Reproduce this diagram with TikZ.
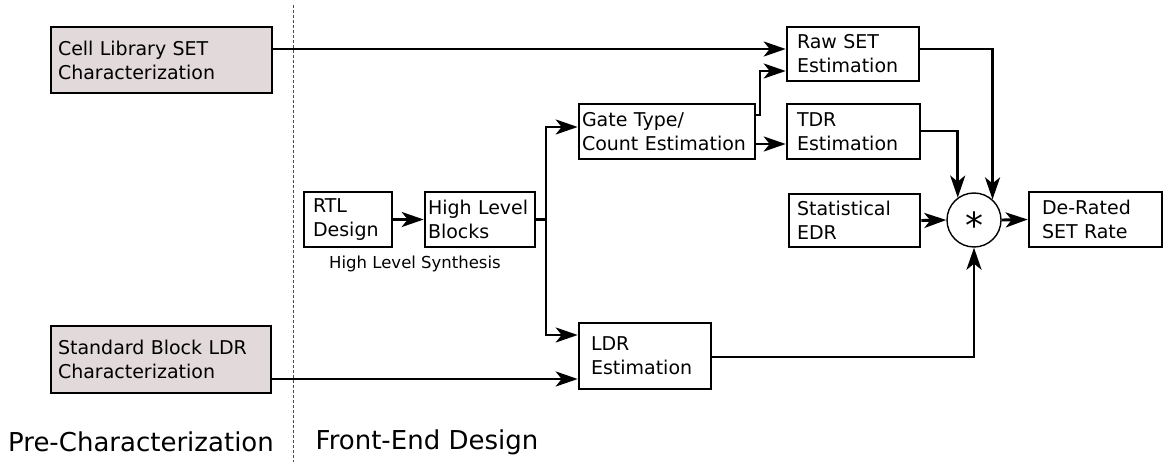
\documentclass[tikz,border=0pt]{standalone}
\usepackage{fontspec}
\setmainfont{DejaVu Sans}
\usetikzlibrary{arrows.meta}
\definecolor{charfill}{HTML}{E2DADA}
\tikzset{
  bx/.style n args={3}{draw, line width=2.6pt, minimum height=#2, text width=#1, inner xsep=#3, inner ysep=0pt, align=left, font=\fontsize{19}{24}\selectfont},
  grey/.style={fill=charfill},
  arr/.style={line width=2.9pt, -{Stealth[length=22pt,width=15pt,inset=6pt]}},
  ln/.style={line width=2.9pt},
  lbl/.style={font=\fontsize{26}{30}\selectfont, inner sep=0pt},
}
\begin{document}
\begin{tikzpicture}[x=1pt,y=-1pt]
\useasboundingbox (0,0) rectangle (1170,462);
\draw[line width=1pt, gray!60!black, dash pattern=on 3pt off 2pt] (293,5) -- (293,462);

\node[bx={207pt}{66pt}{7pt}, grey] (cell) at (161.5,60) {Cell Library SET\\Characterization};
\node[bx={206pt}{67pt}{7pt}, grey] (std) at (161,359.5) {Standard Block LDR\\Characterization};
\node[bx={112pt}{54pt}{10pt}] (raw) at (853,54) {Raw SET\\Estimation};
\node[bx={170pt}{55pt}{3pt}] (gate) at (667,131.5) {Gate Type/\\Count Estimation};
\node[bx={113pt}{55pt}{10pt}] (tdr) at (853.5,131.5) {TDR\\Estimation};
\node[bx={70pt}{55pt}{9pt}] (rtl) at (348,219.5) {RTL\\Design};
\node[bx={104pt}{55pt}{3pt}] (hlb) at (480,219.5) {High Level\\Blocks};
\node[bx={108pt}{66pt}{12pt}] (ldr) at (645,356) {LDR\\Estimation};
\node[bx={115pt}{53pt}{8pt}] (stat) at (854.5,220.5) {Statistical\\EDR};
\node[bx={107pt}{55pt}{13pt}] (der) at (1095.5,219.5) {De-Rated\\SET Rate};
\node[draw, circle, line width=1.4pt, minimum size=54pt, inner sep=0pt] (circ) at (974,220) {};
\node[font=\fontsize{36}{36}\selectfont, inner sep=0pt] (star) at (974,225) {*};

\node[font=\fontsize{16.5}{20}\selectfont, inner sep=0pt] (hls) at (415,264) {High Level Synthesis};
\node[lbl] (pre) at (141,442) {Pre-Characterization};
\node[lbl] (fed) at (427,442) {Front-End Design};

\draw[arr] (cell.east |- 0,49) -- (raw.west |- 0,49);
\draw[arr] (gate.east |- 0,115) -- (760,115) -- (760,71) -- (raw.west |- 0,71);
\draw[arr] (gate.east |- 0,144) -- (tdr.west |- 0,144);
\draw[arr] (rtl.east) -- (hlb.west);
\coordinate (split) at (546,219.5);
\draw[ln] (hlb.east) -- (split);
\draw[arr] (split) |- (gate.west |- 0,127);
\draw[arr] (split) |- (ldr.west |- 0,335);
\draw[arr] (std.east |- 0,379) -- (ldr.west |- 0,379);
\draw[arr] (ldr.east |- 0,357) -| (circ.south);
\draw[arr] (raw.east |- 0,49) -| (circ.48);
\draw[arr] (tdr.east |- 0,131) -| (circ.126);
\draw[arr] (stat.east) -- (circ.west);
\draw[arr] (circ.east) -- (der.west);
\end{tikzpicture}
\end{document}
